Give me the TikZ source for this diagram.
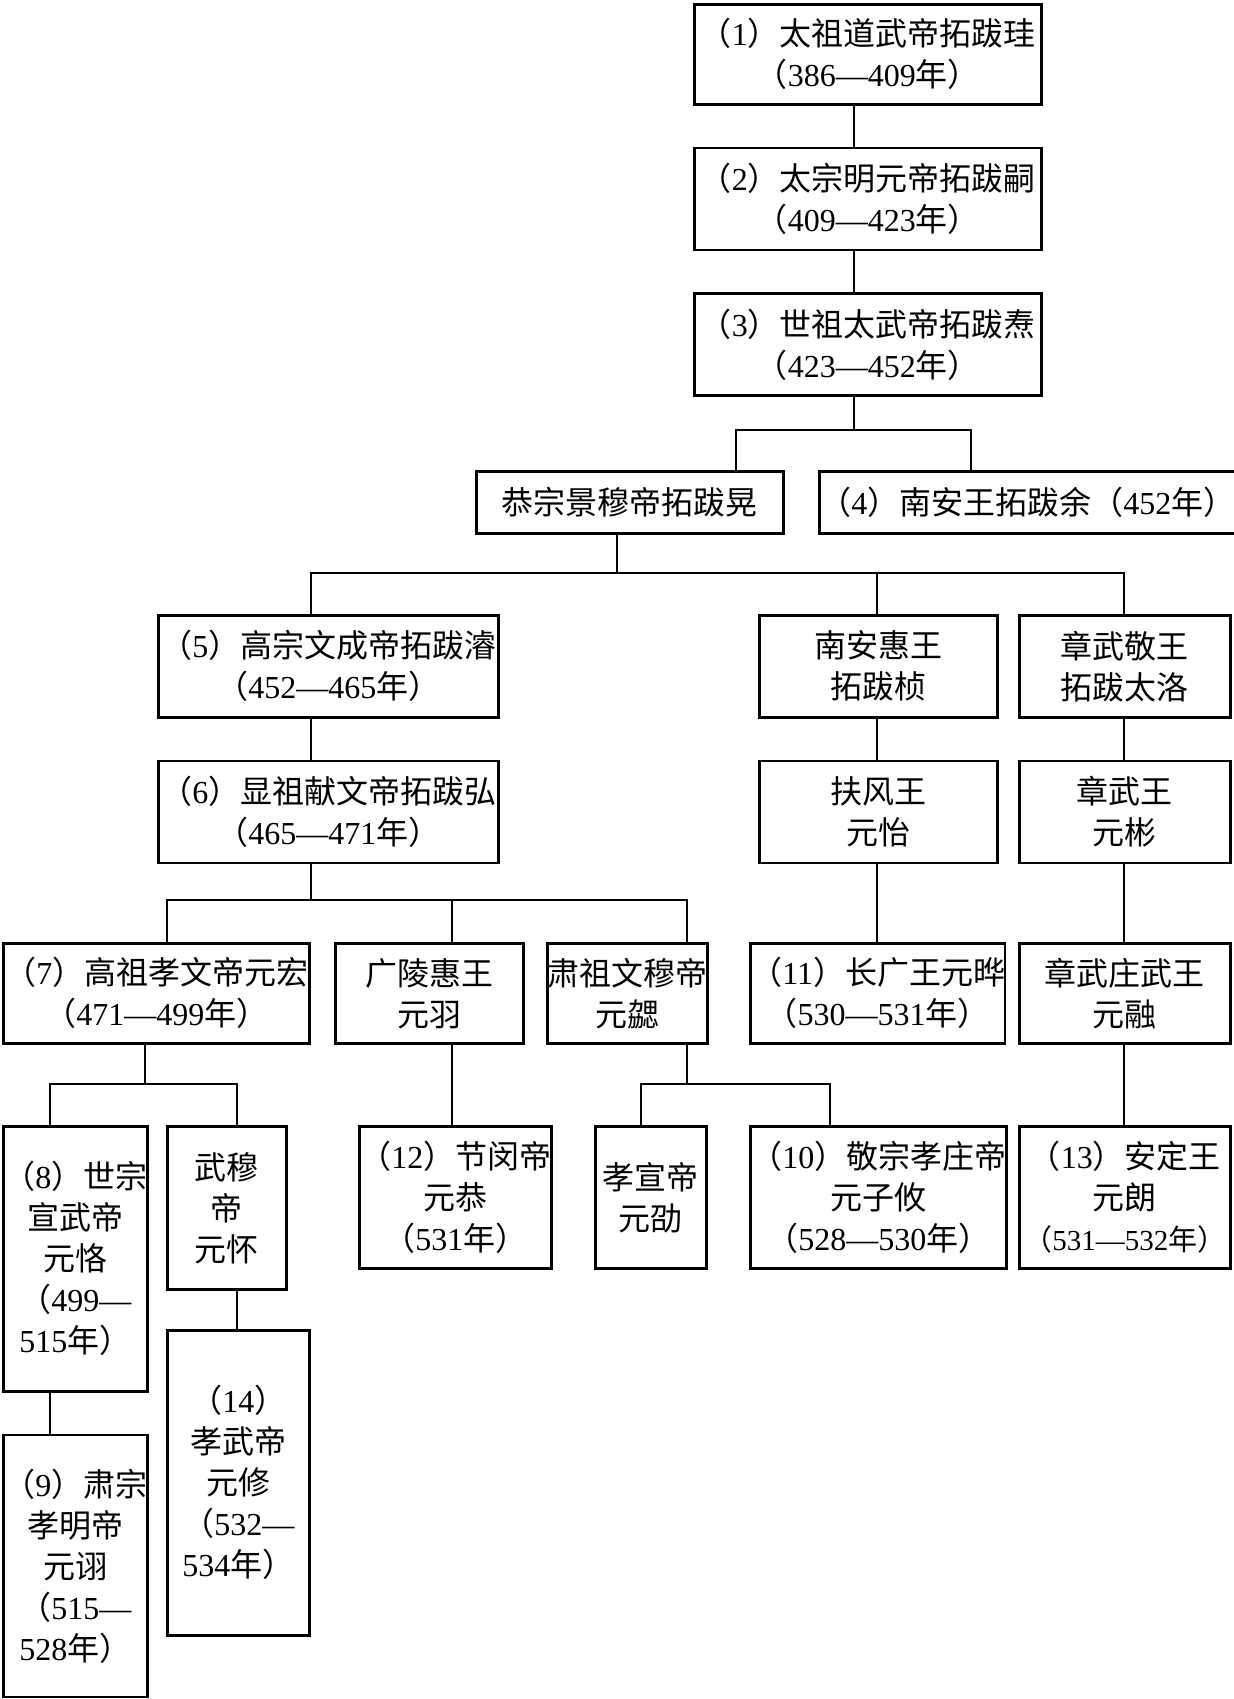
\documentclass[tikz,border=0pt]{standalone}
\usepackage{fontspec}
\setmainfont{Liberation Serif}
\newfontfamily\cjk{Noto Sans CJK SC}
\usetikzlibrary{positioning}
\newcommand{\nm}[1]{{\rmfamily #1}}

\begin{document}
\begin{tikzpicture}[x=0.5pt,y=-0.5pt,node distance=20.5pt,
    box/.style={draw,line width=1.3pt,inner sep=0pt,align=center,anchor=north west,
      font=\cjk\fontsize{16pt}{20.5pt}\selectfont},
    wh/.style 2 args={minimum width=#1*0.5pt,minimum height=#2*0.5pt},
    link/.style={line width=0.7pt}]
  \useasboundingbox (0,0) rectangle (1233,1699);

  % Tuoba line
  \node[box,wh={347}{100}] (1) at (693,3) {（\nm{1}）太祖道武帝拓跋珪\\（\nm{386—409}年）};
  \node[box,wh={347}{102}] (2) [below=of 1] {（\nm{2}）太宗明元帝拓跋嗣\\（\nm{409—423}年）};
  \node[box,wh={347}{102}] (3) [below=of 2] {（\nm{3}）世祖太武帝拓跋焘\\（\nm{423—452}年）};
  \node[box,wh={307}{62}] (jingmu) at (475,470) {恭宗景穆帝拓跋晃};
  \node[box,wh={411}{62}] (4) at (818,470) {（\nm{4}）南安王拓跋余（\nm{452}年）};

  \node[box,wh={340}{102}] (5) at (157,614) {（\nm{5}）高宗文成帝拓跋濬\\（\nm{452—465}年）};
  \node[box,wh={340}{102}] (6) [below=of 5] {（\nm{6}）显祖献文帝拓跋弘\\（\nm{465—471}年）};
  \node[box,wh={238}{102}] (zhen) at (758,614) {南安惠王\\拓跋桢};
  \node[box,wh={238}{102}] (yi) [below=of zhen] {扶风王\\元怡};
  \node[box,wh={211}{102}] (taluo) at (1018,614) {章武敬王\\拓跋太洛};
  \node[box,wh={211}{102}] (bin) [below=of taluo] {章武王\\元彬};

  % Yuan line
  \node[box,wh={306}{100}] (7) at (2,942) {（\nm{7}）高祖孝文帝元宏\\（\nm{471—499}年）};
  \node[box,wh={188}{100}] (yu) at (334,942) {广陵惠王\\元羽};
  \node[box,wh={159}{100}] (xie) at (546,942) {肃祖文穆帝\\元勰};
  \node[box,wh={251}{100}] (11) at (749,942) {（\nm{11}）长广王元晔\\（\nm{530—531}年）};
  \node[box,wh={211}{100}] (rong) at (1018,942) {章武庄武王\\元融};

  \node[box,wh={142}{265}] (8) at (2,1125) {（\nm{8}）世宗\\宣武帝\\元恪\\（\nm{499—}\\\nm{515}年）};
  \node[box,wh={142}{262}] (9) [below=of 8] {（\nm{9}）肃宗\\孝明帝\\元诩\\（\nm{515—}\\\nm{528}年）};
  \node[box,wh={119}{163}] (huai) at (166,1125) {武穆\\帝\\元怀};
  \node[box,wh={142}{305}] (14) at (166,1329) {（\nm{14}）\\孝武帝\\元修\\（\nm{532—}\\\nm{534}年）};
  \node[box,wh={187}{142}] (12) at (358,1125) {（\nm{12}）节闵帝\\元恭\\（\nm{531}年）};
  \node[box,wh={111}{142}] (shao) at (594,1125) {孝宣帝\\元劭};
  \node[box,wh={251}{142}] (10) at (749,1125) {（\nm{10}）敬宗孝庄帝\\元子攸\\（\nm{528—530}年）};
  \node[box,wh={211}{142}] (13) at (1018,1125) {（\nm{13}）安定王\\元朗\\{\fontsize{14.5pt}{20.5pt}\selectfont（\nm{531—532}年）}};

  % junctions
  \coordinate (b3) at (854,430);
  \coordinate (b3l) at (736,430);
  \coordinate (b3r) at (971,430);
  \coordinate (b4) at (617,573);
  \coordinate (b4l) at (311,573);
  \coordinate (b4m) at (877,573);
  \coordinate (b4r) at (1124,573);
  \coordinate (b6) at (311,900);
  \coordinate (b6l) at (167,900);
  \coordinate (b6m) at (452,900);
  \coordinate (b6r) at (687,900);
  \coordinate (b7) at (145,1084);
  \coordinate (b7l) at (50,1084);
  \coordinate (b7r) at (237,1084);
  \coordinate (b8) at (687,1084);
  \coordinate (b8l) at (641,1084);
  \coordinate (b8r) at (830,1084);

  \draw[link] (1.south -| b3) -- (2.north -| b3);
  \draw[link] (2.south -| b3) -- (3.north -| b3);
  \draw[link] (3.south -| b3) -- (b3);
  \draw[link] (jingmu.north -| b3l) |- (b3r) -- (4.north -| b3r);

  \draw[link] (jingmu.south -| b4) -- (b4);
  \draw[link] (5.north -| b4l) |- (b4r) -- (taluo.north -| b4r);
  \draw[link] (b4m) -- (zhen.north -| b4m);
  \draw[link] (5.south -| b4l) -- (6.north -| b4l);
  \draw[link] (zhen.south -| b4m) -- (yi.north -| b4m);
  \draw[link] (yi.south -| b4m) -- (11.north -| b4m);
  \draw[link] (taluo.south -| b4r) -- (bin.north -| b4r);
  \draw[link] (bin.south -| b4r) -- (rong.north -| b4r);
  \draw[link] (rong.south -| b4r) -- (13.north -| b4r);

  \draw[link] (6.south -| b6) -- (b6);
  \draw[link] (7.north -| b6l) |- (b6r) -- (xie.north -| b6r);
  \draw[link] (b6m) -- (yu.north -| b6m);
  \draw[link] (yu.south -| b6m) -- (12.north -| b6m);

  \draw[link] (7.south -| b7) -- (b7);
  \draw[link] (8.north -| b7l) |- (b7r) -- (huai.north -| b7r);
  \draw[link] (8.south -| b7l) -- (9.north -| b7l);
  \draw[link] (huai.south -| b7r) -- (14.north -| b7r);

  \draw[link] (xie.south -| b8) -- (b8);
  \draw[link] (shao.north -| b8l) |- (b8r) -- (10.north -| b8r);

\end{tikzpicture}
\end{document}
